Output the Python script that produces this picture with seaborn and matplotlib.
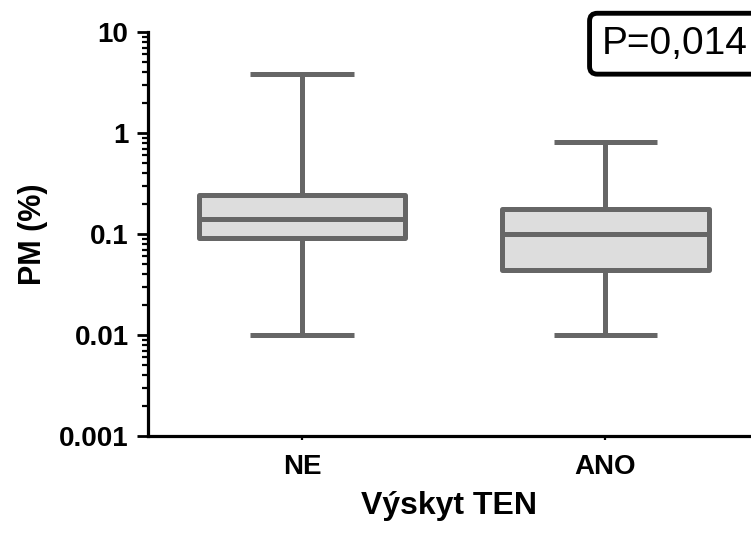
import numpy as np
import pandas as pd
import seaborn as sns
import matplotlib.pyplot as plt
from matplotlib.ticker import LogLocator, FixedLocator, FixedFormatter, NullFormatter

# five-number summaries (min, q1, median, q3, max)
groups = ["NE", "ANO"]
ne_values = [0.01, 0.091, 0.141, 0.243, 3.8]
ano_values = [0.01, 0.044, 0.100, 0.177, 0.81]
ytick_values = [0.001, 0.01, 0.1, 1, 10]
ytick_labels = ["0.001", "0.01", "0.1", "1", "10"]
p_text = "P=0,014"

df = pd.DataFrame({
    "group": [groups[0]] * len(ne_values) + [groups[1]] * len(ano_values),
    "pm": ne_values + ano_values,
})

sns.set_style("ticks")
plt.rcParams["font.family"] = ["Liberation Sans", "DejaVu Sans"]
plt.rcParams["text.color"] = "black"
plt.rcParams["axes.labelcolor"] = "black"
plt.rcParams["xtick.color"] = "black"
plt.rcParams["ytick.color"] = "black"

fig = plt.figure(figsize=(7.51, 5.33), dpi=100)
ax = fig.add_axes([0.197, 0.182, 0.803, 0.758])

sns.boxplot(data=df, x="group", y="pm", order=groups, log_scale=True,
            whis=(0, 100), width=0.68, color="#dddddd", saturation=1,
            linecolor="#666666", linewidth=3.6, fliersize=0, ax=ax)
for ln in ax.lines:
    ln.set_solid_capstyle("butt")
for p in ax.patches:
    p.set_joinstyle("round")

ax.set_ylim(0.001, 10)
ax.set_xlim(-0.508, 1.48)
ax.yaxis.set_major_locator(FixedLocator(ytick_values))
ax.yaxis.set_major_formatter(FixedFormatter(ytick_labels))
ax.yaxis.set_minor_locator(LogLocator(base=10, subs=np.arange(2, 10)))
ax.yaxis.set_minor_formatter(NullFormatter())

for s in ["top", "right"]:
    ax.spines[s].set_visible(False)
for s in ["left", "bottom"]:
    ax.spines[s].set_linewidth(2.3)
    ax.spines[s].set_color("black")

ax.tick_params(axis="y", which="major", length=8, width=2, pad=6,
               labelsize=20, labelcolor="black")
ax.tick_params(axis="y", which="minor", length=4, width=1.6)
ax.tick_params(axis="x", which="major", length=3, width=1.6, pad=10,
               labelsize=20, labelcolor="black")
for lab in ax.get_xticklabels() + ax.get_yticklabels():
    lab.set_fontweight("bold")

ax.set_xlabel("Výskyt TEN", fontsize=23, fontweight="bold", labelpad=8)
ax.set_ylabel("PM (%)", fontsize=22, fontweight="bold", labelpad=8)

fig.text(0.8016, 0.918, p_text, fontsize=28, ha="left", va="center",
         bbox=dict(boxstyle="round,pad=0.32,rounding_size=0.2",
                   facecolor="white", edgecolor="black", linewidth=3.5))

fig.savefig("out.png", dpi=100)
